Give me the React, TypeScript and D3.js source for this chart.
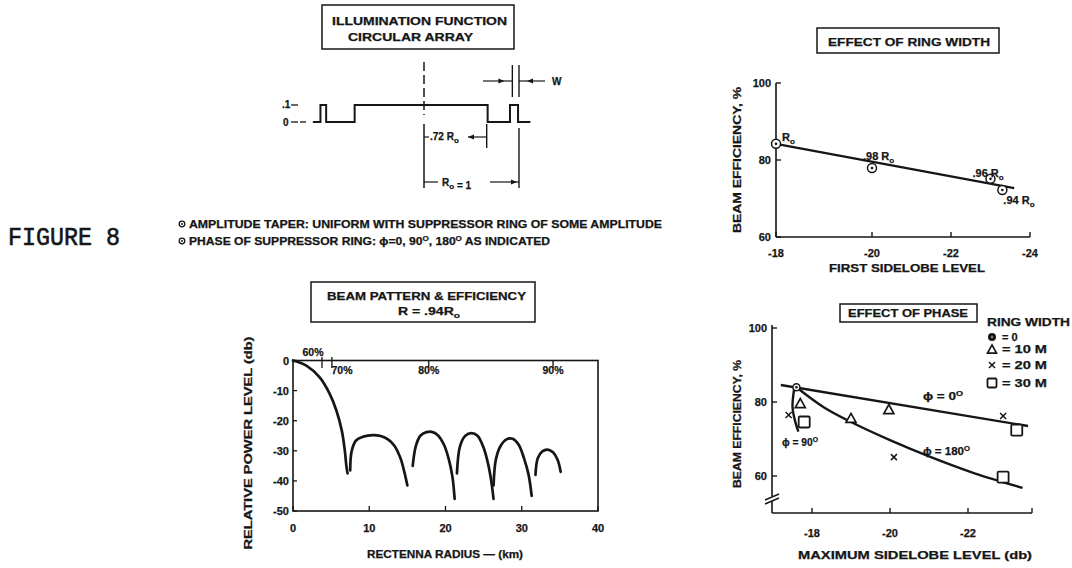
import React from 'react';
import * as d3 from 'd3';

const FONT = '"Liberation Sans", Arial, Helvetica, sans-serif';
const MONO = '"Liberation Mono", "DejaVu Sans Mono", monospace';
const INK = '#161616';

// ---------- Illumination function (schematic, radius in units of R_o) ----------
const illumR = [-1.17, -1.09, -1.03, -0.73, 0.67, 0.905, 0.99, 1.12];
const illumLevel = [0, 1, 0, 1, 0, 1, 0, 0];
const illumLevelLabels = ['.1', '0'];

// ---------- Effect of ring width ----------
const ringSidelobe = [-18, -20, -23, -23.3];
const ringEfficiency = [84.2, 77.9, 75.1, 72.2];
const ringRadiusLabel = ['', '.98 ', '.96 ', '.94 '];
const ringFitSidelobe = [-18, -23.6];
const ringFitEfficiency = [84.2, 72.7];
const ringXTicks = [-18, -20, -22, -24];
const ringYTicks = [60, 80, 100];

// ---------- Beam pattern (km, dB) ----------
const lobe1 = [[0, 0], [1.75, -1.7], [3.5, -5.6], [4.8, -11], [5.7, -16.7], [6.4, -23.3], [6.8, -30], [7.0, -35], [7.15, -37.5]];
const lobe2 = [[7.5, -36.5], [7.7, -30], [8.3, -26.5], [9.2, -25.3], [10.5, -24.8], [11.5, -25.1], [12.5, -26.3], [13.3, -28.3], [14.1, -32.5], [14.6, -37], [15.0, -41.5]];
const lobe3 = [[15.7, -35], [16.1, -28.5], [16.7, -25], [17.5, -23.8], [18.2, -23.7], [19.0, -24.8], [19.8, -28], [20.4, -32.5], [20.9, -38.5], [21.2, -46]];
const lobe4 = [[21.5, -37.5], [21.9, -28.5], [22.6, -25], [23.4, -24.1], [24.2, -25], [25.0, -29], [25.6, -34.5], [26.0, -40], [26.3, -46]];
const lobe5 = [[26.3, -41.5], [26.6, -33], [27.2, -28.5], [28.0, -26.2], [28.8, -26], [29.6, -28], [30.3, -32.5], [30.9, -38], [31.3, -45]];
const lobe6 = [[31.8, -38], [32.1, -32.5], [32.7, -30.2], [33.4, -29.6], [34.1, -30.5], [34.7, -33], [35.1, -37]];
const beamLobes = [lobe1, lobe2, lobe3, lobe4, lobe5, lobe6];
const beamXTicks = [0, 10, 20, 30, 40];
const beamYTicks = [0, -10, -20, -30, -40, -50];
const effLabels = ['60%', '70%', '80%', '90%'];
const effRadius = [3.8, 5.1, 17.8, 34.1];

// ---------- Effect of phase ----------
const phase0 = [[-17.2, 84.6], [-23.54, 73.5]];
const phase180 = [[-17.6, 84], [-18.3, 78.6], [-19.0, 74.6], [-20.0, 69.7], [-21.05, 65.1], [-22.15, 60.8], [-23.4, 56.8]];
const phase90 = [[-17.55, 84.1], [-17.5, 78.7], [-17.56, 75.1], [-17.65, 72]];
const ring0Pts = [[-17.6, 84]];
const ring10Pts = [[-17.7, 79.7], [-19.0, 75.7], [-19.97, 78.1]];
const ring20Pts = [[-17.4, 76.5], [-20.1, 65.1], [-22.9, 76.2]];
const ring30Pts = [[-17.8, 74.6], [-23.25, 72.4], [-22.9, 59.7]];
const phaseXTicks = [-18, -20, -22];
const phaseYTicks = [60, 80, 100];
const legendLabels = ['= 0', '= 10 M', '= 20 M', '= 30 M'];

function T(p: any) {
  const { x, y, size = 11, anchor = 'start', len, rotate, weight = 700, family = FONT, sw = 0.25, children } = p;
  return (
    <text
      x={x}
      y={y}
      fontSize={size}
      textAnchor={anchor}
      fontFamily={family}
      fontWeight={weight}
      fill={INK}
      stroke={INK}
      strokeWidth={sw}
      textLength={len}
      lengthAdjust={len ? 'spacingAndGlyphs' : undefined}
      transform={rotate ? `rotate(${rotate} ${x} ${y})` : undefined}
    >
      {children}
    </text>
  );
}

const Sub = ({ c, dy = 3, size = 8 }: any) => (
  <>
    <tspan dy={dy} fontSize={size}>{c}</tspan>
    <tspan dy={-dy}></tspan>
  </>
);

function CircleDot({ x, y, r = 4.5 }: any) {
  return (
    <g>
      <circle cx={x} cy={y} r={r} fill="white" stroke={INK} strokeWidth={1.5} />
      <circle cx={x} cy={y} r={1.3} fill={INK} />
    </g>
  );
}
function Tri({ x, y, s = 8 }: any) {
  const h = s * 0.9;
  return <path d={`M${x},${y - h / 2} L${x + s / 2},${y + h / 2} L${x - s / 2},${y + h / 2} Z`} fill="white" stroke={INK} strokeWidth={1.7} />;
}
function XMark({ x, y, s = 3 }: any) {
  return <path d={`M${x - s},${y - s} L${x + s},${y + s} M${x + s},${y - s} L${x - s},${y + s}`} stroke={INK} strokeWidth={1.5} />;
}
function Sq({ x, y, s = 9 }: any) {
  return <rect x={x - s / 2} y={y - s / 2} width={s} height={s} rx={1.2} fill="white" stroke={INK} strokeWidth={1.8} />;
}
function Arrow({ x, y, dir }: any) {
  const d = dir === 'r' ? `M${x},${y} L${x - 6},${y - 2.5} L${x - 6},${y + 2.5} Z` : `M${x},${y} L${x + 6},${y - 2.5} L${x + 6},${y + 2.5} Z`;
  return <path d={d} fill={INK} />;
}

export default function App() {
  // Illumination schematic scales
  const ix = d3.scaleLinear().domain([0, 1]).range([424, 519]);
  const iy = d3.scaleLinear().domain([0, 1]).range([122, 105]);
  const illumPath = d3
    .line<number>()
    .x((_, i) => ix(illumR[i]))
    .y((_, i) => iy(illumLevel[i]))
    .curve(d3.curveStepAfter)(illumR) as string;

  // Ring width chart scales
  const rx = d3.scaleLinear().domain([-18, -20, -22, -24]).range([776, 872, 951, 1030]);
  const ry = d3.scaleLinear().domain([60, 100]).range([237, 83]);
  const ringFit = d3.line<number>().x((_, i) => rx(ringFitSidelobe[i])).y((_, i) => ry(ringFitEfficiency[i]))(ringFitSidelobe) as string;
  const ringLabelOff = [[6, -3], [-9, -8], [-18, -2], [1, 14]];

  // Beam pattern scales
  const bx = d3.scaleLinear().domain([0, 40]).range([293, 598]);
  const by = d3.scaleLinear().domain([0, -50]).range([360.5, 511]);
  const beamLine = d3
    .line<number[]>()
    .x((d) => bx(d[0]))
    .y((d) => by(d[1]))
    .curve(d3.curveCatmullRom.alpha(0.5));

  // Phase chart scales
  const px = d3.scaleLinear().domain([-18, -22]).range([812, 968]);
  const py = d3.scaleLinear().domain([60, 100]).range([476, 328]);
  const phaseLine = d3
    .line<number[]>()
    .x((d) => px(d[0]))
    .y((d) => py(d[1]))
    .curve(d3.curveCatmullRom.alpha(0.5));

  const legendY = [337, 349, 365, 383];

  return (
    <svg width={1072} height={568} style={{ position: 'absolute', left: 0, top: 0, background: 'white' }}>
      <rect x={0} y={0} width={1072} height={568} fill="white" />

      {/* FIGURE 8 */}
      <T x={8} y={245} size={25} weight={400} family={MONO} len={112} sw={0.6}>FIGURE 8</T>

      {/* ---------------- Illumination function ---------------- */}
      <rect x={322} y={5} width={192} height={44} fill="none" stroke={INK} strokeWidth={1.5} />
      <T x={419.5} y={25} anchor="middle" size={11} len={175}>ILLUMINATION FUNCTION</T>
      <T x={410.5} y={41} anchor="middle" size={11} len={125}>CIRCULAR ARRAY</T>

      <T x={282} y={108} size={10}>{illumLevelLabels[0]}</T>
      <line x1={291} x2={298} y1={iy(1)} y2={iy(1)} stroke={INK} strokeWidth={1.3} />
      <T x={283} y={126} size={10}>{illumLevelLabels[1]}</T>
      <line x1={291} x2={298} y1={iy(0)} y2={iy(0)} stroke={INK} strokeWidth={1.3} />
      <line x1={300} x2={306} y1={iy(0)} y2={iy(0)} stroke={INK} strokeWidth={1.3} />
      <path d={illumPath} fill="none" stroke={INK} strokeWidth={2} />
      {/* centre line */}
      <line x1={ix(0)} x2={ix(0)} y1={62} y2={115} stroke={INK} strokeWidth={1.5} strokeDasharray="9,4" />
      <line x1={ix(0)} x2={ix(0)} y1={124} y2={188} stroke={INK} strokeWidth={1.5} />
      {/* W marker */}
      <line x1={ix(0.93)} x2={ix(0.93)} y1={65} y2={97} stroke={INK} strokeWidth={1.4} />
      <line x1={ix(1.0)} x2={ix(1.0)} y1={65} y2={97} stroke={INK} strokeWidth={1.4} />
      <line x1={483} x2={ix(0.93)} y1={81} y2={81} stroke={INK} strokeWidth={1.2} />
      <Arrow x={ix(0.93) - 8} y={81} dir="r" />
      <line x1={ix(1.0)} x2={545} y1={81} y2={81} stroke={INK} strokeWidth={1.2} />
      <Arrow x={ix(1.0) + 8} y={81} dir="l" />
      <T x={552} y={85} size={10}>W</T>
      {/* .72 Ro dimension */}
      <line x1={ix(0.66)} x2={ix(0.66)} y1={124} y2={148} stroke={INK} strokeWidth={1.4} />
      <line x1={ix(0)} x2={ix(0) + 5} y1={137} y2={137} stroke={INK} strokeWidth={1.2} />
      <T x={430} y={140} size={10}>.72 R<Sub c="o" /></T>
      <line x1={468} x2={ix(0.66)} y1={137} y2={137} stroke={INK} strokeWidth={1.2} />
      <Arrow x={468} y={137} dir="l" />
      {/* Ro = 1 dimension */}
      <line x1={ix(1.0)} x2={ix(1.0)} y1={128} y2={188} stroke={INK} strokeWidth={1.4} />
      <line x1={ix(0)} x2={ix(0) + 14} y1={182} y2={182} stroke={INK} strokeWidth={1.2} />
      <T x={442} y={186} size={10}>R<Sub c="o" /> = 1</T>
      <line x1={490} x2={ix(1.0)} y1={182} y2={182} stroke={INK} strokeWidth={1.2} />
      <Arrow x={ix(1.0) - 2} y={182} dir="r" />

      {/* notes */}
      <circle cx={182} cy={224} r={2.8} fill="none" stroke={INK} strokeWidth={1.3} />
      <circle cx={182} cy={224} r={1} fill={INK} />
      <T x={189} y={228} size={10.5} len={473}>AMPLITUDE TAPER:  UNIFORM WITH SUPPRESSOR RING OF SOME AMPLITUDE</T>
      <circle cx={182} cy={241} r={2.8} fill="none" stroke={INK} strokeWidth={1.3} />
      <circle cx={182} cy={241} r={1} fill={INK} />
      <T x={189} y={245} size={10.5} len={361}>PHASE OF SUPPRESSOR RING:  ϕ=0, 90<tspan dy={-4} fontSize={7}>O</tspan><tspan dy={4}>, 180</tspan><tspan dy={-4} fontSize={7}>O</tspan><tspan dy={4}> AS INDICATED</tspan></T>

      {/* ---------------- Effect of ring width ---------------- */}
      <rect x={817} y={28} width={182} height={25} fill="none" stroke={INK} strokeWidth={1.5} />
      <T x={909} y={46} anchor="middle" size={11.5} len={162}>EFFECT OF RING WIDTH</T>
      <line x1={rx(-18)} x2={rx(-18)} y1={ry(100)} y2={ry(60)} stroke={INK} strokeWidth={1.6} />
      <line x1={rx(-18)} x2={rx(-24)} y1={ry(60)} y2={ry(60)} stroke={INK} strokeWidth={1.6} />
      {ringYTicks.map((v) => (
        <g key={'ry' + v}>
          <line x1={rx(-18)} x2={rx(-18) + 5} y1={ry(v)} y2={ry(v)} stroke={INK} strokeWidth={1.4} />
          <T x={771} y={ry(v) + 4} anchor="end" size={11}>{v}</T>
        </g>
      ))}
      {ringXTicks.map((v) => (
        <g key={'rx' + v}>
          <line x1={rx(v)} x2={rx(v)} y1={ry(60)} y2={ry(60) - 5} stroke={INK} strokeWidth={1.4} />
          <T x={rx(v)} y={257} anchor="middle" size={11}>{v}</T>
        </g>
      ))}
      <T x={907} y={272} anchor="middle" size={11} len={156}>FIRST SIDELOBE LEVEL</T>
      <T x={741} y={160} anchor="middle" size={11} len={146} rotate={-90}>BEAM EFFICIENCY, %</T>
      <path d={ringFit} fill="none" stroke={INK} strokeWidth={2.4} />
      {ringSidelobe.map((s, i) => (
        <g key={'rp' + i}>
          <CircleDot x={rx(s)} y={ry(ringEfficiency[i])} />
          <T x={rx(s) + ringLabelOff[i][0]} y={ry(ringEfficiency[i]) + ringLabelOff[i][1]} size={11}>
            {ringRadiusLabel[i]}R<Sub c="o" />
          </T>
        </g>
      ))}

      {/* ---------------- Beam pattern & efficiency ---------------- */}
      <rect x={311} y={282} width={224} height={40} fill="none" stroke={INK} strokeWidth={1.5} />
      <T x={426.5} y={300} anchor="middle" size={11} len={199}>BEAM PATTERN &amp; EFFICIENCY</T>
      <T x={398} y={315} size={11} len={62}>R = .94R<Sub c="o" /></T>
      <rect x={bx(0)} y={by(0)} width={bx(40) - bx(0)} height={by(-50) - by(0)} fill="none" stroke={INK} strokeWidth={1.6} />
      {beamYTicks.map((v) => (
        <g key={'by' + v}>
          <line x1={bx(0)} x2={bx(0) + 4} y1={by(v)} y2={by(v)} stroke={INK} strokeWidth={1.3} />
          <T x={289} y={by(v) + 4} anchor="end" size={11}>{v}</T>
        </g>
      ))}
      {beamXTicks.map((v) => (
        <g key={'bx' + v}>
          <line x1={bx(v)} x2={bx(v)} y1={by(-50)} y2={by(-50) - 5} stroke={INK} strokeWidth={1.3} />
          <T x={bx(v)} y={532} anchor="middle" size={11}>{v}</T>
        </g>
      ))}
      {effLabels.map((l, i) => (
        <g key={'eff' + i}>
          <line x1={bx(effRadius[i])} x2={bx(effRadius[i])} y1={i < 2 ? 357 : 360} y2={368} stroke={INK} strokeWidth={1.3} />
          {i === 0 ? (
            <T x={313} y={356} anchor="middle" size={10.5}>{l}</T>
          ) : (
            <T x={i === 1 ? 342 : bx(effRadius[i])} y={374} anchor="middle" size={10.5}>{l}</T>
          )}
        </g>
      ))}
      {beamLobes.map((lobe, i) => (
        <path key={'lobe' + i} d={beamLine(lobe as any) as string} fill="none" stroke={INK} strokeWidth={2.7} strokeLinecap="round" />
      ))}
      <T x={445} y={558} anchor="middle" size={11} len={156}>RECTENNA RADIUS — (km)</T>
      <T x={252} y={443} anchor="middle" size={11} len={213} rotate={-90}>RELATIVE POWER LEVEL (db)</T>

      {/* ---------------- Effect of phase ---------------- */}
      <rect x={840} y={304} width={137} height={18} fill="none" stroke={INK} strokeWidth={1.5} />
      <T x={908} y={317} anchor="middle" size={11} len={120}>EFFECT OF PHASE</T>
      <T x={987} y={326} size={11} len={83}>RING WIDTH</T>
      <circle cx={992} cy={legendY[0]} r={4} fill={INK} />
      <circle cx={992} cy={legendY[0]} r={1.2} fill="#888" />
      <Tri x={992} y={legendY[1]} s={9} />
      <XMark x={992} y={legendY[2]} s={3} />
      <Sq x={992} y={legendY[3]} s={9} />
      {legendLabels.map((l, i) => (
        <T key={'lg' + i} x={1002} y={legendY[i] + 4} size={11} len={l.length > 3 ? 45 : undefined}>{l}</T>
      ))}
      {/* axes */}
      <line x1={772} x2={772} y1={325} y2={496} stroke={INK} strokeWidth={1.6} />
      <path d="M765,500 L779,494 M765,504 L779,498" stroke={INK} strokeWidth={1.4} fill="none" />
      <line x1={772} x2={772} y1={501} y2={513} stroke={INK} strokeWidth={1.6} />
      <line x1={772} x2={1032} y1={513} y2={513} stroke={INK} strokeWidth={1.6} />
      <line x1={1032} x2={1032} y1={513} y2={508} stroke={INK} strokeWidth={1.4} />
      {phaseYTicks.map((v) => (
        <g key={'py' + v}>
          <line x1={772} x2={777} y1={py(v)} y2={py(v)} stroke={INK} strokeWidth={1.4} />
          <T x={767} y={py(v) + 4} anchor="end" size={11}>{v}</T>
        </g>
      ))}
      {phaseXTicks.map((v) => (
        <g key={'px' + v}>
          <line x1={px(v)} x2={px(v)} y1={513} y2={508} stroke={INK} strokeWidth={1.4} />
          <T x={px(v)} y={537} anchor="middle" size={11}>{v}</T>
        </g>
      ))}
      <T x={915} y={559} anchor="middle" size={11} len={234}>MAXIMUM SIDELOBE LEVEL (db)</T>
      <T x={741} y={424} anchor="middle" size={11} len={128} rotate={-90}>BEAM EFFICIENCY, %</T>
      <path d={phaseLine(phase0 as any) as string} fill="none" stroke={INK} strokeWidth={2.4} />
      <path d={phaseLine(phase180 as any) as string} fill="none" stroke={INK} strokeWidth={2.4} />
      <path d={phaseLine(phase90 as any) as string} fill="none" stroke={INK} strokeWidth={2.4} />
      {ring10Pts.map((d, i) => <Tri key={'t' + i} x={px(d[0])} y={py(d[1])} s={10} />)}
      {ring20Pts.map((d, i) => <XMark key={'x' + i} x={px(d[0])} y={py(d[1])} s={3} />)}
      {ring30Pts.map((d, i) => <Sq key={'s' + i} x={px(d[0])} y={py(d[1])} s={11} />)}
      {ring0Pts.map((d, i) => <CircleDot key={'c' + i} x={px(d[0])} y={py(d[1])} r={3.5} />)}
      <T x={923} y={400} size={10.5} len={40}>ϕ = 0<tspan dy={-4} fontSize={7}>O</tspan></T>
      <T x={923} y={455} size={10.5} len={47}>ϕ = 180<tspan dy={-4} fontSize={7}>O</tspan></T>
      <T x={782} y={446} size={10.5} len={36}>ϕ = 90<tspan dy={-4} fontSize={7}>O</tspan></T>
    </svg>
  );
}
